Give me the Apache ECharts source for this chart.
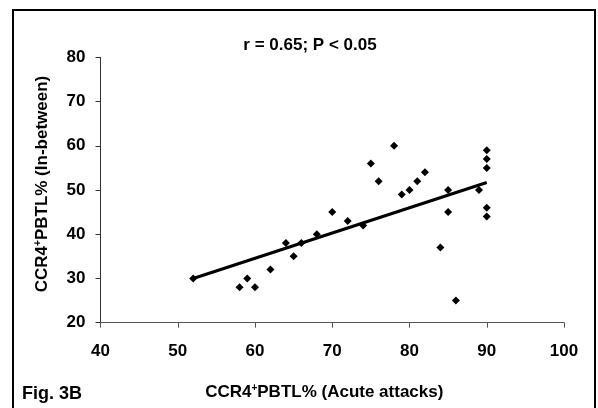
<!DOCTYPE html>
<html><head><meta charset="utf-8">
<script src="https://cdn.jsdelivr.net/npm/echarts@6/dist/echarts.min.js"></script>
<style>html,body{margin:0;padding:0;background:#fff}#c{width:598px;height:408px}</style>
</head><body><div id="c"></div>
<script>
var acuteX = [52,58,59,60,62,64,65,66,68,70,72,74,75,76,78,79,80,81,82,84,85,85,86,89,90,90,90,90,90];
var betweenY = [30,28,30,28,32,38,35,38,40,45,43,42,56,52,60,49,50,52,54,37,50,45,25,50,59,57,55,46,44];
var trendX = [52,90];
var trendY = [30,51.7];
var xTicks = [40,50,60,70,80,90,100];
var yTicks = [20,30,40,50,60,70,80];
var titleText = 'r = 0.65; P < 0.05';
var figLabel = 'Fig. 3B';

var pts = acuteX.map(function(x,i){return [x, betweenY[i]];});
var line = trendX.map(function(x,i){return [x, trendY[i]];});
var F = 'Liberation Sans, Arial, sans-serif';
var FS = 17;
var rich = {a:{fontFamily:F,fontWeight:'bold',fontSize:FS,color:'#000'},s:{fontFamily:F,fontWeight:'bold',fontSize:10,color:'#000',verticalAlign:'top'}};
var chart = echarts.init(document.getElementById('c'));
chart.setOption({
  animation:false,
  backgroundColor:'#fff',
  title:{text:titleText,left:305,top:32,textAlign:'center',textStyle:{fontFamily:F,fontWeight:'bold',fontSize:FS,color:'#000'}},
  grid:{left:100.5,right:34,top:57.3,bottom:85.3},
  xAxis:{type:'value',min:xTicks[0],max:xTicks[xTicks.length-1],interval:10,
    axisLine:{lineStyle:{color:'#555',width:1}},axisTick:{inside:false,length:5,lineStyle:{color:'#555'}},
    splitLine:{show:false},
    axisLabel:{margin:20,fontFamily:F,fontWeight:'bold',fontSize:FS,color:'#000'},
    name:'{a|CCR4}{s|+}{a|PBTL% (Acute attacks)}',nameLocation:'middle',nameGap:61,
    nameTextStyle:{rich:rich,padding:[0,16,0,0]}
  },
  yAxis:{type:'value',min:yTicks[0],max:yTicks[yTicks.length-1],interval:10,
    axisLine:{show:true,lineStyle:{color:'#333',width:1}},axisTick:{show:true,inside:false,length:5,lineStyle:{color:'#333'}},
    splitLine:{show:false},
    axisLabel:{margin:15,fontFamily:F,fontWeight:'bold',fontSize:FS,color:'#000'},
    name:'{a|CCR4}{s|+}{a|PBTL% (In-between)}',nameLocation:'middle',nameGap:50,nameRotate:90,
    nameTextStyle:{rich:rich,padding:[0,0,0,12]}
  },
  graphic:[
    {type:'rect',shape:{x:13,y:10,width:582,height:420},style:{fill:'none',stroke:'#000',lineWidth:2},silent:true},
    {type:'text',left:22,top:385,style:{text:figLabel,font:'bold 18px '+F,fill:'#000'}}
  ],
  series:[
    {type:'line',data:line,symbol:'none',lineStyle:{color:'#000',width:3},z:2},
    {type:'scatter',data:pts,symbol:'diamond',symbolSize:8,itemStyle:{color:'#000',opacity:1},z:3}
  ]
});
</script></body></html>
